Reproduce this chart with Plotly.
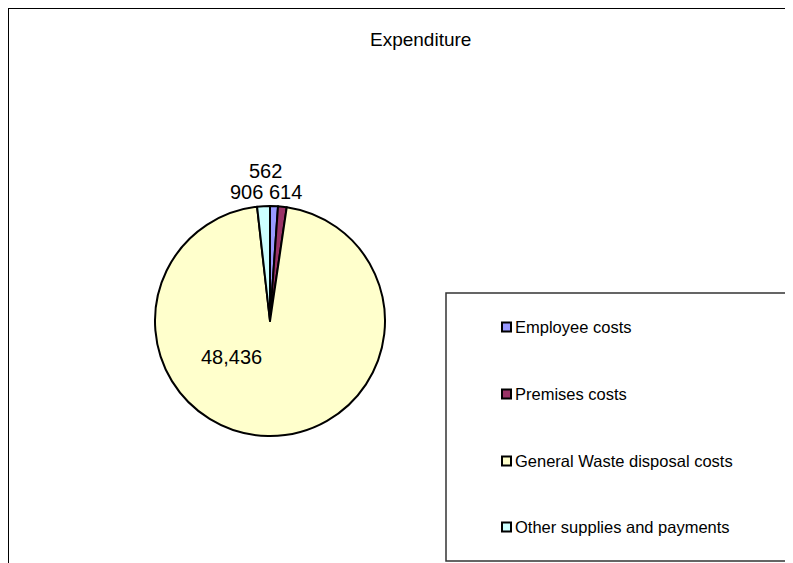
import plotly.graph_objects as go

categories = ["Employee costs", "Premises costs", "General Waste disposal costs", "Other supplies and payments"]
values = [562, 614, 48436, 906]
colors = ["#9999FF", "#993366", "#FFFFCC", "#CCFFFF"]
title_text = "Expenditure"

# the page body adds an 8px margin, so the figure is laid out 8px in from the window edge
OFF = 8
W, H = 793 - OFF, 563 - OFF
FONT = "Liberation Sans, Arial, sans-serif"

def px(x):
    return (x - OFF) / W

def py(y):
    return 1 - (y - OFF) / H

fig = go.Figure()
fig.add_trace(go.Pie(
    labels=categories,
    values=values,
    marker=dict(colors=colors, line=dict(color="#000000", width=2)),
    sort=False,
    direction="clockwise",
    rotation=0,
    textinfo="none",
    hoverinfo="label+value",
    showlegend=False,
    domain=dict(x=[px(155), px(385)], y=[py(436), py(206)]),
))

annotations = []
# data labels (positions approximate the reference layout)
label_pos = [(265, 171), (285, 192), (231, 357), (246, 192)]
for v, (lx, ly) in zip(values, label_pos):
    annotations.append(dict(
        x=px(lx), y=py(ly), xref="paper", yref="paper",
        text=f"{v:,}", showarrow=False, xanchor="center", yanchor="middle",
        font=dict(family=FONT, size=20, color="#000000"),
    ))

# title
annotations.append(dict(
    x=px(420), y=py(40), xref="paper", yref="paper", text=title_text,
    showarrow=False, xanchor="center", yanchor="middle",
    font=dict(family=FONT, size=19, color="#000000"),
))

shapes = [
    # outer chart frame
    dict(type="rect", xref="paper", yref="paper", x0=px(8), y0=py(8), x1=px(830), y1=py(600),
         line=dict(color="#000000", width=2), fillcolor="rgba(0,0,0,0)", layer="above"),
    # legend box
    dict(type="rect", xref="paper", yref="paper", x0=px(446), y0=py(293), x1=px(788), y1=py(561),
         line=dict(color="#333333", width=1.5), fillcolor="#FFFFFF", layer="below"),
]

legend_y = [327, 394, 461, 527]
for cat, col, ly in zip(categories, colors, legend_y):
    shapes.append(dict(type="rect", xref="paper", yref="paper",
                       x0=px(502), x1=px(511), y0=py(ly - 4.5), y1=py(ly + 4.5),
                       line=dict(color="#000000", width=2), fillcolor=col, layer="above"))
    annotations.append(dict(
        x=px(513), y=py(ly), xref="paper", yref="paper", text=cat,
        showarrow=False, xanchor="left", yanchor="middle",
        font=dict(family=FONT, size=16.5, color="#000000"),
    ))

fig.update_layout(
    width=W, height=H,
    margin=dict(l=0, r=0, t=0, b=0),
    paper_bgcolor="#FFFFFF",
    plot_bgcolor="#FFFFFF",
    shapes=shapes,
    annotations=annotations,
    showlegend=False,
)

fig.write_html("out.html")
